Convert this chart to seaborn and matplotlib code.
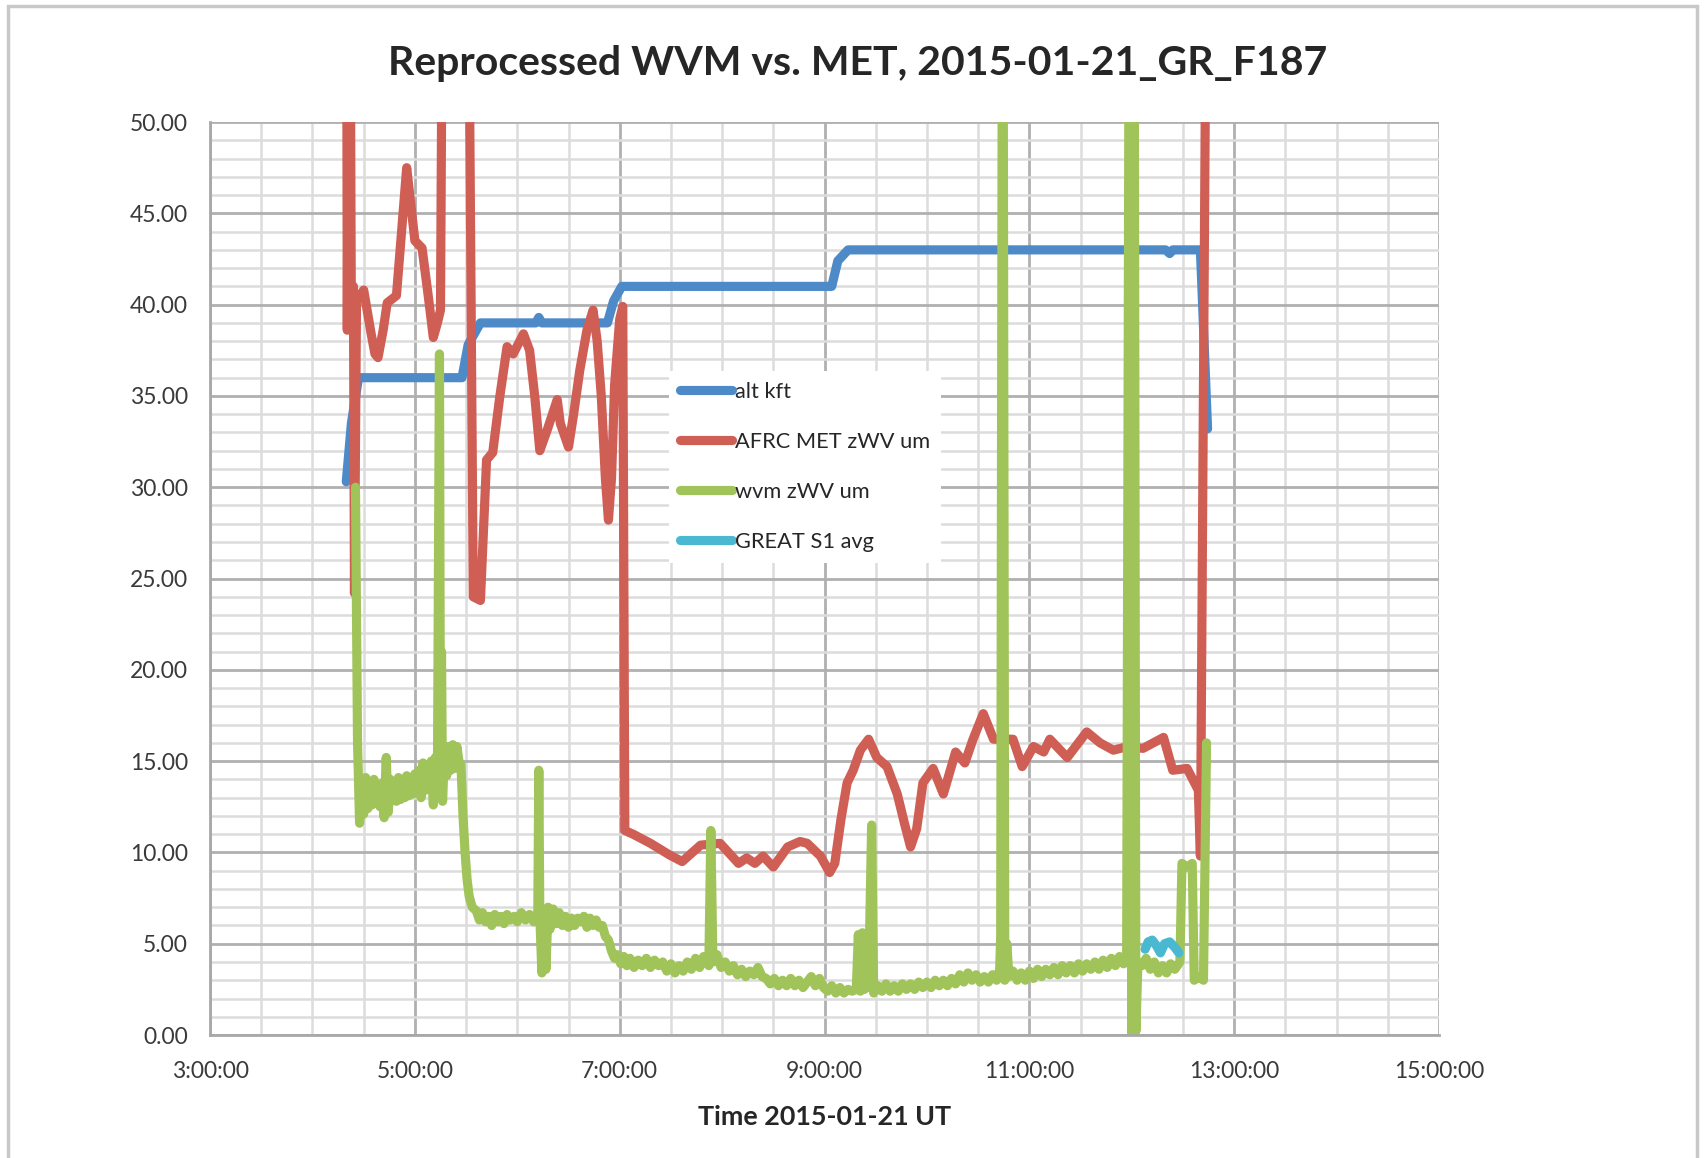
import pandas as pd
import numpy as np
import matplotlib
matplotlib.use('Agg')
import matplotlib.pyplot as plt
import seaborn as sns
from matplotlib.ticker import MultipleLocator, FuncFormatter
from matplotlib.patches import Rectangle

# values: (hour UT, value); 70 = off the top of the axis
alt_points = [(4.33, 30.3), (4.38, 33.5), (4.45, 36.0), (5.46, 36.0), (5.52, 37.8),
              (5.64, 39.0), (6.18, 39.0), (6.21, 39.3), (6.24, 39.0), (6.88, 39.0),
              (6.94, 40.2), (7.02, 41.0), (9.07, 41.0), (9.13, 42.4), (9.23, 43.0),
              (12.33, 43.0), (12.37, 42.8), (12.40, 43.0), (12.67, 43.0), (12.74, 33.2)]

met_points = [(4.33, 70), (4.34, 38.6), (4.36, 70), (4.38, 38.8), (4.40, 41.0),
              (4.41, 24.2), (4.43, 40.2), (4.50, 40.8), (4.57, 38.5), (4.61, 37.3),
              (4.64, 37.1), (4.69, 38.6), (4.73, 40.1), (4.82, 40.5), (4.87, 44.0),
              (4.92, 47.5), (4.96, 45.5), (5.00, 43.5), (5.07, 43.1), (5.13, 40.5),
              (5.18, 38.2), (5.22, 39.0), (5.25, 39.7), (5.28, 70), (5.51, 70),
              (5.57, 24.0), (5.64, 23.8), (5.70, 31.5), (5.76, 31.9), (5.83, 35.0),
              (5.90, 37.7), (5.96, 37.3), (6.06, 38.4), (6.12, 37.5), (6.17, 35.0),
              (6.22, 32.0), (6.29, 33.1), (6.39, 34.8), (6.42, 33.5), (6.50, 32.2),
              (6.55, 34.0), (6.61, 36.4), (6.68, 38.6), (6.74, 39.7), (6.78, 38.0),
              (6.82, 35.0), (6.86, 30.5), (6.89, 28.2), (6.92, 30.5), (6.95, 35.6),
              (7.00, 39.2), (7.03, 39.9), (7.05, 11.2), (7.13, 11.0), (7.30, 10.5),
              (7.49, 9.85), (7.61, 9.5), (7.79, 10.4), (7.98, 10.5), (8.16, 9.4),
              (8.24, 9.7), (8.32, 9.4), (8.40, 9.8), (8.50, 9.2), (8.64, 10.3),
              (8.76, 10.6), (8.83, 10.5), (8.96, 9.8), (9.05, 8.9), (9.10, 9.4),
              (9.16, 11.8), (9.22, 13.8), (9.28, 14.5), (9.35, 15.6), (9.43, 16.2),
              (9.51, 15.2), (9.61, 14.7), (9.71, 13.2), (9.78, 11.6), (9.84, 10.3),
              (9.90, 11.3), (9.96, 13.8), (10.06, 14.6), (10.16, 13.2), (10.28, 15.5),
              (10.37, 14.9), (10.45, 16.2), (10.55, 17.6), (10.65, 16.2), (10.84, 16.2),
              (10.93, 14.7), (11.04, 15.8), (11.14, 15.5), (11.20, 16.2), (11.37, 15.2),
              (11.56, 16.6), (11.69, 16.0), (11.82, 15.6), (11.96, 15.8), (12.11, 15.7),
              (12.31, 16.3), (12.40, 14.5), (12.54, 14.6), (12.65, 13.4), (12.67, 9.8),
              (12.74, 70)]

wvm_points = [(4.42, 30.0), (4.44, 16.0), (4.46, 11.6), (4.48, 13.6), (4.50, 12.1),
              (4.52, 14.1), (4.54, 12.4), (4.56, 13.4), (4.58, 12.6), (4.60, 14.0),
              (4.62, 12.8), (4.64, 13.3), (4.66, 12.5), (4.68, 13.8), (4.70, 11.9),
              (4.72, 15.2), (4.74, 12.2), (4.76, 14.0), (4.78, 12.9), (4.80, 13.7),
              (4.82, 12.8), (4.84, 14.1), (4.86, 12.9), (4.88, 13.6), (4.90, 13.0),
              (4.92, 14.2), (4.94, 13.1), (4.96, 13.9), (4.98, 13.2), (5.00, 14.3),
              (5.02, 13.3), (5.04, 14.5), (5.06, 13.0), (5.08, 14.9), (5.10, 13.4),
              (5.12, 14.6), (5.14, 13.6), (5.16, 15.0), (5.18, 12.6), (5.20, 15.2),
              (5.22, 13.9), (5.24, 37.3), (5.25, 13.5), (5.26, 21.0), (5.27, 12.8),
              (5.29, 15.6), (5.31, 14.2), (5.33, 15.8), (5.35, 14.5), (5.37, 15.9),
              (5.39, 14.6), (5.41, 15.8), (5.43, 15.0), (5.45, 14.8), (5.47, 12.0),
              (5.49, 10.0), (5.51, 8.5), (5.53, 7.6), (5.56, 7.0), (5.60, 6.8),
              (5.63, 6.3), (5.66, 6.7), (5.69, 6.2), (5.72, 6.5), (5.75, 6.0),
              (5.78, 6.6), (5.81, 6.2), (5.84, 6.5), (5.87, 6.1), (5.90, 6.6),
              (5.93, 6.3), (5.97, 6.5), (6.00, 6.2), (6.04, 6.7), (6.08, 6.3),
              (6.12, 6.6), (6.16, 6.2), (6.20, 6.5), (6.21, 14.5), (6.22, 6.5),
              (6.24, 3.4), (6.26, 6.8), (6.28, 3.6), (6.30, 7.0), (6.32, 5.8),
              (6.35, 6.9), (6.38, 6.1), (6.41, 6.7), (6.44, 6.0), (6.47, 6.5),
              (6.50, 5.9), (6.53, 6.4), (6.56, 6.0), (6.59, 6.4), (6.62, 6.2),
              (6.65, 6.5), (6.68, 5.9), (6.71, 6.4), (6.74, 6.0), (6.77, 6.3),
              (6.80, 5.9), (6.83, 6.0), (6.86, 5.4), (6.89, 5.2), (6.92, 4.6),
              (6.95, 4.2), (6.98, 4.4), (7.01, 3.9), (7.04, 4.3), (7.07, 3.8),
              (7.10, 4.2), (7.14, 3.7), (7.18, 4.1), (7.22, 3.8), (7.26, 4.2),
              (7.30, 3.7), (7.34, 4.1), (7.38, 3.8), (7.42, 4.0), (7.46, 3.5),
              (7.50, 3.9), (7.54, 3.4), (7.58, 3.8), (7.62, 3.5), (7.66, 4.0),
              (7.70, 3.6), (7.74, 4.2), (7.78, 3.7), (7.82, 4.3), (7.87, 3.8),
              (7.89, 11.2), (7.91, 4.0), (7.95, 4.4), (7.99, 3.7), (8.03, 4.0),
              (8.07, 3.5), (8.11, 3.8), (8.15, 3.3), (8.19, 3.6), (8.23, 3.2),
              (8.27, 3.5), (8.31, 3.3), (8.35, 3.7), (8.39, 3.2), (8.43, 3.1),
              (8.47, 2.8), (8.51, 3.1), (8.55, 2.7), (8.59, 3.0), (8.63, 2.7),
              (8.67, 3.1), (8.71, 2.7), (8.75, 3.0), (8.79, 2.6), (8.83, 2.9),
              (8.87, 3.2), (8.91, 2.7), (8.95, 3.1), (8.99, 2.6), (9.03, 2.4),
              (9.07, 2.7), (9.11, 2.3), (9.15, 2.6), (9.19, 2.3), (9.23, 2.5),
              (9.27, 2.4), (9.31, 2.5), (9.33, 5.5), (9.35, 2.4), (9.37, 5.6),
              (9.39, 2.5), (9.41, 5.3), (9.43, 2.6), (9.46, 11.5), (9.48, 2.3),
              (9.52, 2.7), (9.56, 2.4), (9.60, 2.8), (9.64, 2.4), (9.68, 2.7),
              (9.72, 2.4), (9.76, 2.8), (9.80, 2.5), (9.84, 2.8), (9.88, 2.5),
              (9.92, 2.9), (9.96, 2.6), (10.00, 2.9), (10.04, 2.6), (10.08, 3.0),
              (10.12, 2.7), (10.16, 3.0), (10.20, 2.7), (10.24, 3.1), (10.28, 2.8),
              (10.32, 3.3), (10.36, 2.9), (10.40, 3.4), (10.44, 3.0), (10.48, 3.3),
              (10.52, 2.9), (10.56, 3.2), (10.60, 2.9), (10.64, 3.3), (10.68, 3.0),
              (10.71, 3.6), (10.72, 5.4), (10.74, 70), (10.76, 3.0), (10.78, 5.0),
              (10.80, 3.2), (10.84, 3.5), (10.88, 3.0), (10.92, 3.4), (10.96, 3.0),
              (11.00, 3.5), (11.04, 3.1), (11.08, 3.6), (11.12, 3.2), (11.16, 3.6),
              (11.20, 3.3), (11.24, 3.7), (11.28, 3.3), (11.32, 3.8), (11.36, 3.4),
              (11.40, 3.8), (11.44, 3.4), (11.48, 3.9), (11.52, 3.5), (11.56, 3.9),
              (11.60, 3.6), (11.64, 4.0), (11.68, 3.6), (11.72, 4.1), (11.76, 3.7),
              (11.80, 4.2), (11.84, 3.8), (11.88, 4.3), (11.92, 3.9), (11.95, 4.4),
              (11.98, 70), (12.00, 0.1), (12.02, 70), (12.04, 0.2), (12.06, 4.0),
              (12.10, 3.8), (12.14, 4.2), (12.18, 3.6), (12.22, 4.0), (12.26, 3.4),
              (12.30, 3.8), (12.34, 3.4), (12.38, 3.9), (12.42, 3.6), (12.47, 4.0),
              (12.49, 9.4), (12.54, 9.2), (12.59, 9.4), (12.61, 3.0), (12.65, 3.2),
              (12.70, 3.0), (12.73, 16.0)]

great_points = [(12.13, 4.7), (12.16, 5.1), (12.20, 5.2), (12.24, 4.9), (12.28, 4.5),
                (12.32, 5.0), (12.37, 5.1), (12.42, 4.8), (12.46, 4.5)]

series_names = ['alt kft', 'AFRC MET zWV um', 'wvm zWV um', 'GREAT S1 avg']
series_colors = ['#4E8AC8', '#CF5E55', '#A0C45A', '#4BB8D2']

sns.set_style('white')
plt.rcParams['font.family'] = ['Lato', 'DejaVu Sans']

fig = plt.figure(figsize=(17.05, 11.58), dpi=100)
ax = fig.add_axes([0.1232, 0.1062, 0.7208, 0.7884])

for pts, name, col in zip([alt_points, met_points, wvm_points, great_points],
                          series_names, series_colors):
    df = pd.DataFrame(pts, columns=['hour', 'value'])
    sns.lineplot(data=df, x='hour', y='value', ax=ax, color=col, label=name,
                 estimator=None, sort=False, linewidth=6.6,
                 solid_capstyle='round', solid_joinstyle='round')

ax.set_xlim(3, 15)
ax.set_ylim(0, 50)
ax.xaxis.set_major_locator(MultipleLocator(2, offset=1))
ax.xaxis.set_minor_locator(MultipleLocator(0.5))
ax.yaxis.set_major_locator(MultipleLocator(5))
ax.yaxis.set_minor_locator(MultipleLocator(1))
ax.xaxis.set_major_formatter(FuncFormatter(lambda h, p: '%d:00:00' % int(round(h))))
ax.yaxis.set_major_formatter(FuncFormatter(lambda v, p: '%.2f' % v))

ax.set_axisbelow(True)
ax.grid(which='major', color='#B0B0B0', linewidth=2.0)
ax.grid(which='minor', color='#DCDCDC', linewidth=1.8)
for s in ['top', 'right']:
    ax.spines[s].set_visible(False)
for s in ['left', 'bottom']:
    ax.spines[s].set_color('#A8A8A8')
    ax.spines[s].set_linewidth(2)
ax.tick_params(which='major', direction='out', length=5, width=1.6, color='#A8A8A8',
               labelsize=16.5, labelcolor='#3A3A3A', pad=11)
ax.tick_params(axis='x', which='major', pad=14)
ax.tick_params(which='minor', length=0)

ax.set_xlabel('Time 2015-01-21 UT', fontsize=19.4, fontweight='bold', labelpad=16)
ax.set_ylabel('')
fig.text(0.503, 0.9448, 'Reprocessed WVM vs. MET, 2015-01-21_GR_F187',
         ha='center', va='center', fontsize=29.5, fontweight='bold')

leg = ax.legend(loc='upper left', bbox_to_anchor=(658 / 1705, 1 - 360 / 1158),
                bbox_transform=fig.transFigure, fontsize=15.7, frameon=True,
                fancybox=False, edgecolor='none', facecolor='white', framealpha=1,
                handlelength=2.4, handletextpad=0.15, labelspacing=1.38, borderpad=0.5)
for lh in leg.get_lines():
    lh.set_linewidth(6.6)
    lh.set_solid_capstyle('round')

fig.add_artist(Rectangle((8 / 1705, -0.02), 1697 / 1705 - 8 / 1705, 1.02 - 6 / 1158,
                         transform=fig.transFigure, fill=False, edgecolor='#C8C8C8',
                         linewidth=2.5))

fig.savefig('out.png', dpi=100)
